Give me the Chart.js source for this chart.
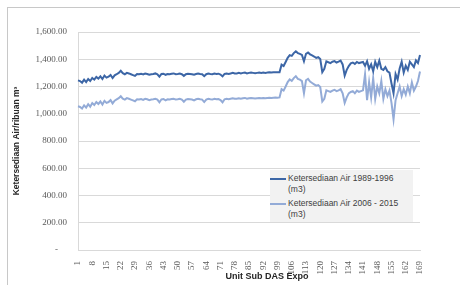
<!DOCTYPE html>
<html>
<head>
<meta charset="utf-8">
<script src="https://cdn.jsdelivr.net/npm/chart.js@4.4.0/dist/chart.umd.min.js"></script>
<style>
  html, body { margin: 0; padding: 0; background: #fff; overflow: hidden; }
  #wrap { position: relative; width: 460px; height: 285px; }
  #frame { position: absolute; left: 7px; top: 7px; width: 480px; height: 300px; border: 1px solid #c8c8c8; }
  #chart-box { position: absolute; left: 0; top: 0; width: 460px; height: 285px; }
  #xtitle { position: absolute; top: 271px; left: 217px; width: 100px; text-align: center;
    font: bold 9px 'Liberation Sans', sans-serif; color: #262626; }
  #legend { position: absolute; left: 270px; top: 170px; width: 143px; height: 52px; background: #f2f2f2;
    font: 8.5px 'Liberation Sans', sans-serif; color: #404040; }
  .item { position: absolute; left: 0; }
  .item .sw { position: absolute; left: 0; top: 5px; width: 16px; height: 2px; }
  .item .tx { position: absolute; left: 18px; top: 0; width: 125px; line-height: 11px; white-space: nowrap; }
</style>
</head>
<body>
<div id="wrap">
  <div id="frame"></div>
  <div id="chart-box"><canvas id="water-line-chart"></canvas></div>
  <div id="xtitle">Unit Sub DAS Expo</div>
  <div id="legend">
    <div class="item" style="top:3px"><div class="sw" style="background:#3c66a6"></div><div class="tx">Ketersediaan Air 1989-1996<br>(m3)</div></div>
    <div class="item" style="top:28px"><div class="sw" style="background:#93abd7"></div><div class="tx">Ketersediaan Air 2006 - 2015<br>(m3)</div></div>
  </div>
</div>
<script>
// unit sub DAS 1..169
var units = Array.from({ length: 169 }, (_, i) => String(i + 1));

var air1989 = [
    1245, 1240, 1228, 1250, 1232, 1255, 1240, 1262, 1250, 1270,
    1258, 1275, 1255, 1280, 1265, 1272, 1285, 1262, 1282, 1290,
    1300, 1315, 1298, 1290, 1300, 1296, 1290, 1284, 1278, 1292,
    1290, 1294, 1288, 1295, 1292, 1286, 1290, 1292, 1296, 1290,
    1272, 1292, 1294, 1286, 1292, 1290, 1294, 1296, 1290, 1292,
    1295, 1290, 1278, 1290, 1294, 1292, 1290, 1286, 1292, 1295,
    1292, 1290, 1276, 1290, 1295, 1292, 1290, 1295, 1292, 1294,
    1288, 1274, 1292, 1295, 1292, 1296, 1300, 1295, 1296, 1300,
    1296, 1300, 1302, 1296, 1300, 1302, 1300, 1298, 1300, 1302,
    1300, 1302, 1300, 1302, 1305, 1302, 1304, 1305, 1304, 1305,
    1360, 1350, 1380, 1410, 1430, 1425, 1445, 1458, 1445, 1440,
    1432, 1385, 1440, 1450, 1436, 1428, 1420, 1410, 1415, 1402,
    1305, 1330, 1385, 1378, 1372, 1382, 1386, 1376, 1382, 1390,
    1362, 1280, 1322, 1350, 1370, 1376, 1366, 1380, 1372, 1376,
    1380, 1352, 1386, 1330, 1362, 1312, 1382, 1342, 1390, 1330,
    1322, 1342, 1312, 1302, 1222, 1150, 1292, 1252, 1332, 1382,
    1302, 1352, 1322, 1382, 1362, 1342, 1392, 1372, 1432
];

var air2006 = [
    1055, 1050, 1038, 1062, 1045, 1070, 1052, 1078, 1064, 1086,
    1072, 1090, 1068, 1095, 1080, 1086, 1100, 1076, 1096, 1105,
    1114, 1128, 1110, 1104, 1115, 1110, 1104, 1098, 1092, 1106,
    1104, 1108, 1102, 1110, 1106, 1100, 1104, 1106, 1110, 1104,
    1084, 1106, 1108, 1098, 1106, 1104, 1108, 1110, 1104, 1106,
    1110, 1104, 1088, 1104, 1108, 1106, 1104, 1098, 1106, 1110,
    1106, 1104, 1086, 1104, 1110, 1106, 1104, 1110, 1106, 1108,
    1100, 1084, 1106, 1110, 1106, 1110, 1114, 1110, 1110, 1114,
    1110, 1114, 1116, 1110, 1114, 1116, 1114, 1112, 1114, 1116,
    1114, 1116, 1114, 1116, 1118, 1116, 1118, 1120, 1118, 1120,
    1180, 1170, 1200, 1232, 1252, 1242, 1262, 1276, 1256, 1250,
    1240, 1150, 1246, 1256, 1236, 1226, 1216, 1206, 1210, 1196,
    1090, 1110, 1172, 1166, 1160, 1170, 1176, 1166, 1172, 1180,
    1150, 1080, 1120, 1150, 1160, 1166, 1150, 1170, 1160, 1166,
    1172, 1290, 1100, 1232, 1120, 1262, 1110, 1200, 1150, 1240,
    1110, 1180, 1130, 1170, 1080, 960, 1100, 1150, 1200, 1130,
    1180, 1140, 1200, 1150, 1230, 1170, 1200, 1240, 1310
];

var data = {
    labels: units,
    datasets: [{
        label: 'Ketersediaan Air 1989-1996 (m3)',
        data: air1989,
        borderColor: '#3c66a6',
        borderWidth: 2,
        pointRadius: 0,
        tension: 0,
    }, {
        label: 'Ketersediaan Air 2006 - 2015 (m3)',
        data: air2006,
        borderColor: '#93abd7',
        borderWidth: 2,
        pointRadius: 0,
        tension: 0,
    }]
};

var layout = {
    type: 'line',
    data: data,
    options: {
        responsive: true,
        maintainAspectRatio: false,
        animation: false,
        layout: {
            padding: { top: 32, right: 40, left: 0, bottom: 0 }
        },
        plugins: {
            legend: { display: false },
            tooltip: { enabled: false },
        },
        scales: {
            x: {
                grid: { display: false },
                border: { color: '#d9d9d9' },
                ticks: {
                    autoSkip: false,
                    maxRotation: 90,
                    minRotation: 90,
                    padding: 3,
                    color: '#595959',
                    font: { family: 'Liberation Serif', size: 9 },
                    callback: function (val, i) {
                        return i % 7 === 0 ? units[i] : '';
                    }
                },
                afterFit: function (s) { s.height = 35; }
            },
            y: {
                min: 0,
                max: 1600,
                grid: { color: '#d9d9d9', drawTicks: false },
                border: { color: '#d9d9d9' },
                ticks: {
                    stepSize: 200,
                    padding: 11,
                    color: '#595959',
                    font: { family: 'Liberation Serif', size: 9 },
                    callback: function (v) {
                        if (v === 0) return '-    ';
                        return v.toLocaleString('en-US', { minimumFractionDigits: 2, maximumFractionDigits: 2 });
                    }
                },
                title: {
                    display: true,
                    text: 'Ketersediaan Air/ribuan m³',
                    color: '#262626',
                    padding: { top: 12, bottom: 0 },
                    font: { family: 'Liberation Sans', size: 8.5, weight: 'bold' }
                },
                afterFit: function (s) { s.width = 78; }
            }
        }
    }
};

const waterLine = document.getElementById('water-line-chart');
new Chart(waterLine, layout);
</script>
</body>
</html>
